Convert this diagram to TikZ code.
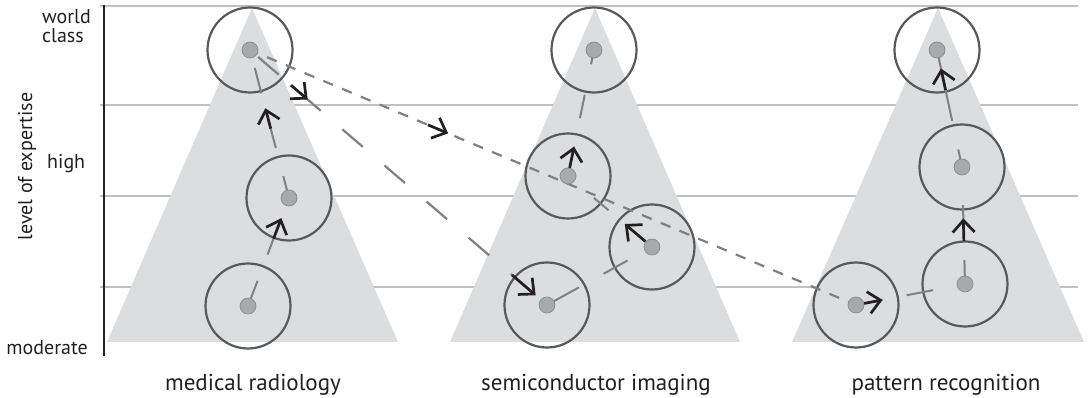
\documentclass[tikz,border=0pt]{standalone}
\usepackage{fontspec}
\setmainfont{PT Sans}
\usetikzlibrary{arrows.meta,decorations.markings}
\definecolor{tri}{HTML}{DCDDDE}
\definecolor{gridc}{HTML}{BFC0C2}
\definecolor{ringc}{HTML}{58595B}
\definecolor{dotc}{HTML}{A7A9AC}
\definecolor{dotedge}{HTML}{8A8B8D}
\definecolor{linkc}{HTML}{808080}
\definecolor{arrc}{HTML}{231F20}
\definecolor{txt}{HTML}{231F20}
\tikzset{
  gridline/.style={draw=gridc, line width=1.2pt},
  pyramid/.style={fill=tri, draw=none},
  ring/.style={circle, draw=ringc, line width=2.2pt, minimum size=85pt, inner sep=0pt},
  dot/.style={circle, fill=dotc, draw=dotedge, line width=0.7pt, minimum size=16pt, inner sep=0pt},
  gl/.style={draw=linkc, line width=2pt},
  dl/.style={draw=linkc, line width=2.2pt},
  barb/.style={draw=arrc, solid, line width=2.7pt, -{Straight Barb[length=12pt,width=22pt]}},
  arr/.style 2 args={postaction={decorate, decoration={markings,
      mark=at position #1 with {\draw[barb] (-#2,0pt) -- (0pt,0pt);}}}},
  side/.style={text=txt, inner sep=0pt, font=\fontsize{20pt}{22pt}\selectfont},
  foot/.style={text=txt, inner sep=0pt, font=\fontsize{23pt}{26pt}\selectfont},
}
\begin{document}
\begin{tikzpicture}[x=1pt,y=-1pt]
\useasboundingbox (0,0) rectangle (1088,398);
% grid lines
\coordinate (g0l) at (100,6);   \coordinate (g0r) at (1078,6);
\coordinate (g1l) at (100,105); \coordinate (g1r) at (1078,105);
\coordinate (g2l) at (100,196); \coordinate (g2r) at (1078,196);
\coordinate (g3l) at (100,287); \coordinate (g3r) at (1078,287);
\draw[gridline] (g0l) -- (g0r);
\draw[gridline] (g1l) -- (g1r);
\draw[gridline] (g2l) -- (g2r);
\draw[gridline] (g3l) -- (g3r);
% pyramids
\fill[pyramid] (107,342) -- (252,8) -- (398,342) -- cycle;
\fill[pyramid] (450,342) -- (595,8) -- (740,342) -- cycle;
\fill[pyramid] (792,342) -- (938,8) -- (1084,342) -- cycle;
% axis
\coordinate (axt) at (104,5); \coordinate (axb) at (104,356);
\draw[arrc, line width=2.6pt] (axt) -- (axb);
% positions
\coordinate (a1) at (248,306); \coordinate (a2) at (289,198); \coordinate (a3) at (250,50);
\coordinate (b1) at (594,50);  \coordinate (b2) at (568,176); \coordinate (b3) at (652,247); \coordinate (b4) at (547,305);
\coordinate (c1) at (937,50);  \coordinate (c2) at (962,167); \coordinate (c3) at (965,284); \coordinate (c4) at (856,305);
% rings
\foreach \n in {a1,a2,a3,b1,b2,b3,b4,c1,c2,c3,c4} \node[ring] (r\n) at (\n) {};
% connectors
\draw[gl, dash pattern=on 0pt off 8pt on 19pt off 28pt on 38pt off 60pt, arr={94pt}{22pt}] (a1) -- (a2);
\draw[gl, dash pattern=on 0pt off 8pt on 14.7pt off 29pt on 40pt off 16.5pt on 26.3pt off 40pt, arr={92.8pt}{21pt}] (a2) -- (a3);
\draw[dl, dash pattern=on 27pt off 28.5pt, dash phase=44.8pt, arr={76pt}{22pt}, arr={376.5pt}{31pt}] (a3) -- (b4);
\draw[dl, dash pattern=on 10.5pt off 9.84pt, dash phase=1.84pt, arr={215pt}{22pt}] (a3) -- (c4);
\draw[gl, dash pattern=on 0pt off 8pt on 28.4pt off 28.2pt on 27.4pt off 40pt] (b4) -- (b3);
\draw[gl, dash pattern=on 0pt off 8pt on 27pt off 22pt on 19pt off 40pt, arr={35.6pt}{27pt}] (b3) -- (b2);
\draw[gl, dash pattern=on 0pt off 8pt on 22pt off 29pt on 24pt off 31pt on 7pt off 20pt, arr={30pt}{22pt}] (b2) -- (b1);
\draw[gl, dash pattern=on 0pt off 8pt on 19pt off 24.5pt on 27pt off 40pt, arr={27pt}{19pt}] (c4) -- (c3);
\draw[gl, dash pattern=on 0pt off 8pt on 16pt off 18pt on 37pt off 40pt, arr={65.7pt}{23pt}] (c3) -- (c2);
\draw[gl, dash pattern=on 0pt off 8pt on 10pt off 29pt on 65pt off 20pt, arr={100.7pt}{22pt}] (c2) -- (c1);
% dots
\foreach \n in {a1,a2,a3,b1,b2,b3,b4,c1,c2,c3,c4} \node[dot] (d\n) at (\n) {};
% labels
\node[side, anchor=base west] (world) at (42,24) {world};
\node[side, anchor=base west] (class) at (42,43) {class};
\node[side, anchor=base west] (high) at (47,169) {high};
\node[side, anchor=base east] (moderate) at (88,355) {moderate};
\node[side, rotate=90, anchor=base] (level) at (32,166.5) {level of expertise};
\node[foot, anchor=base] (f1) at (253,390) {medical radiology};
\node[foot, anchor=base] (f2) at (596,390) {semiconductor imaging};
\node[foot, anchor=base] (f3) at (946,390) {pattern recognition};
\end{tikzpicture}
\end{document}
